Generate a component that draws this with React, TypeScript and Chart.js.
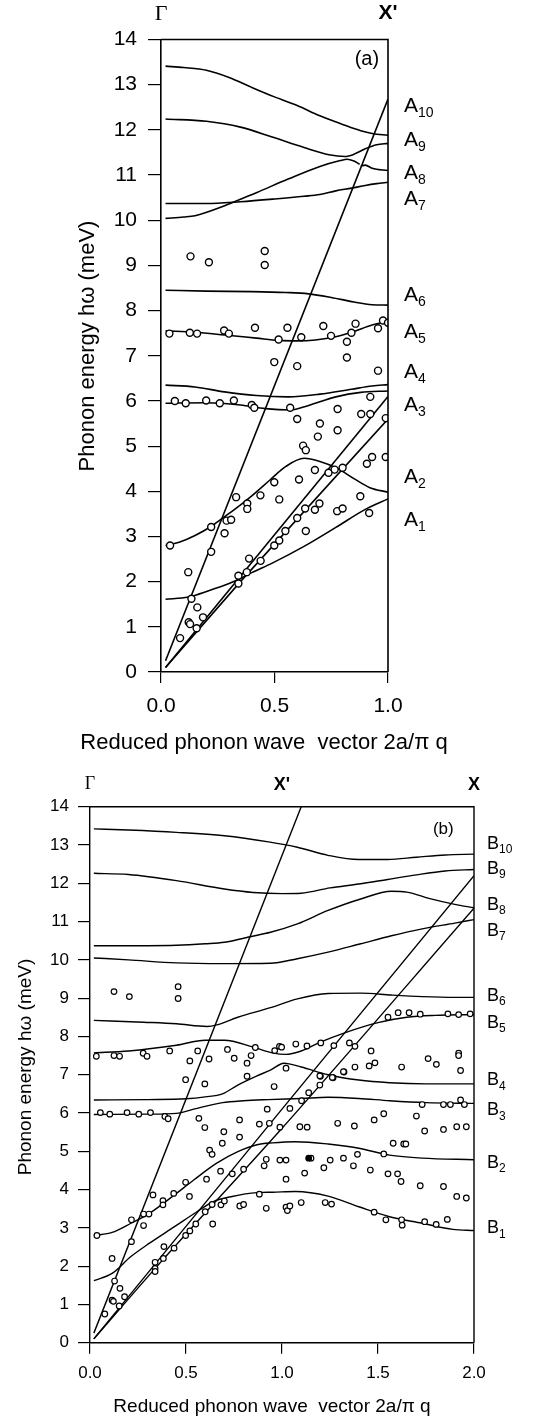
import React, { useEffect, useRef } from 'react';
import { Chart, registerables } from 'chart.js';

Chart.register(...registerables);

const SANS = "'Liberation Sans', Arial, sans-serif";
const SERIF = "'Liberation Serif', 'Times New Roman', serif";

// ---------------- Panel (a): Γ – X' ----------------
const A10_X = [0.02, 0.1, 0.2, 0.3, 0.4, 0.5, 0.6, 0.7, 0.8, 0.88, 0.93, 1.0];
const A10_Y = [13.41, 13.38, 13.32, 13.16, 12.94, 12.73, 12.54, 12.31, 12.12, 11.98, 11.92, 11.88];
const A9_X = [0.02, 0.2, 0.35, 0.49, 0.63, 0.74, 0.81, 0.85, 0.9, 0.95, 1.0];
const A9_Y = [12.24, 12.19, 12.06, 11.84, 11.61, 11.45, 11.41, 11.46, 11.58, 11.67, 11.7];
const A8A_X = [0.02, 0.1, 0.15, 0.28, 0.42, 0.56, 0.7, 0.79, 0.82, 0.85, 0.875];
const A8A_Y = [10.04, 10.07, 10.1, 10.32, 10.61, 10.91, 11.19, 11.32, 11.35, 11.31, 11.24];
const A8B_X = [0.88, 0.9, 0.93, 1.0];
const A8B_Y = [11.2, 11.22, 11.15, 11.1];
const A7_X = [0.02, 0.2, 0.35, 0.5, 0.63, 0.7, 0.77, 0.84, 0.9, 0.95, 1.0];
const A7_Y = [10.37, 10.37, 10.41, 10.47, 10.53, 10.57, 10.65, 10.71, 10.77, 10.81, 10.84];
const A6_X = [0.02, 0.2, 0.4, 0.55, 0.65, 0.75, 0.85, 0.93, 1.0];
const A6_Y = [8.45, 8.43, 8.42, 8.4, 8.37, 8.29, 8.19, 8.13, 8.12];
const A5_X = [0.02, 0.15, 0.28, 0.42, 0.52, 0.6, 0.68, 0.77, 0.84, 0.93, 1.0];
const A5_Y = [7.55, 7.52, 7.46, 7.39, 7.34, 7.33, 7.35, 7.42, 7.52, 7.68, 7.76];
const A4_X = [0.02, 0.15, 0.28, 0.42, 0.56, 0.7, 0.84, 0.93, 1.0];
const A4_Y = [6.35, 6.31, 6.2, 6.12, 6.09, 6.15, 6.26, 6.33, 6.36];
const A3_X = [0.02, 0.2, 0.35, 0.46, 0.57, 0.65, 0.77, 0.88, 1.0];
const A3_Y = [5.95, 5.96, 5.91, 5.83, 5.8, 5.9, 6.09, 6.19, 6.22];
const A2_X = [0.02, 0.08, 0.15, 0.22, 0.27, 0.33, 0.4, 0.48, 0.55, 0.63, 0.7, 0.78, 0.85, 0.92, 1.0];
const A2_Y = [2.8, 2.87, 3.02, 3.22, 3.4, 3.62, 3.9, 4.25, 4.55, 4.73, 4.66, 4.5, 4.28, 4.08, 3.98];
const A1_X = [0.02, 0.12, 0.21, 0.3, 0.35, 0.4, 0.49, 0.63, 0.77, 0.9, 1.0];
const A1_Y = [1.61, 1.66, 1.8, 1.96, 2.07, 2.2, 2.41, 2.78, 3.2, 3.6, 3.83];
const A_STEEP_X = [0.02, 1.0];
const A_STEEP_Y = [0.25, 12.68];
const A_D1_X = [0.02, 1.0];
const A_D1_Y = [0.1, 6.1];
const A_D2_X = [0.02, 0.35, 1.0];
const A_D2_Y = [0.1, 2.0, 5.6];

const PTS_A_X = [
  0.13, 0.211, 0.457, 0.457,
  0.037, 0.127, 0.159, 0.278, 0.299, 0.414, 0.557, 0.518, 0.618, 0.715, 0.749, 0.819, 0.839, 0.857, 0.956, 0.978, 1.0,
  0.819, 0.499, 0.6, 0.956,
  0.061, 0.109, 0.199, 0.259, 0.321, 0.4, 0.411, 0.569, 0.6, 0.778, 0.882, 0.922, 0.922, 0.99,
  0.7, 0.778, 0.691, 0.626, 0.638,
  0.99, 0.93, 0.907,
  0.04, 0.084, 0.12, 0.134, 0.16, 0.122, 0.128, 0.157, 0.185, 0.221, 0.221, 0.28, 0.289, 0.309, 0.331, 0.38, 0.38, 0.438, 0.499, 0.521, 0.608, 0.678, 0.738, 0.765, 0.8,
  0.341, 0.341, 0.378, 0.388, 0.439, 0.499, 0.521, 0.548, 0.6, 0.635, 0.638, 0.678, 0.698, 0.776, 0.8, 0.878, 0.917,
];
const PTS_A_Y = [
  9.2, 9.07, 9.32, 9.01,
  7.49, 7.51, 7.49, 7.56, 7.49, 7.62, 7.62, 7.36, 7.41, 7.66, 7.44, 7.31, 7.51, 7.71, 7.61, 7.78, 7.73,
  6.96, 6.86, 6.77, 6.67,
  6.0, 5.95, 6.01, 5.95, 6.01, 5.91, 5.85, 5.85, 5.6, 5.82, 5.71, 6.09, 5.71, 5.62,
  5.5, 5.35, 5.21, 5.01, 4.91,
  4.76, 4.76, 4.61,
  2.8, 0.75, 2.21, 1.62, 1.43, 1.1, 1.06, 0.97, 1.21, 3.21, 2.66, 3.07, 3.35, 3.37, 3.87, 3.73, 3.61, 3.91, 4.2, 3.82, 4.26, 4.47, 4.41, 4.48, 4.52,
  2.13, 1.96, 2.21, 2.51, 2.46, 2.8, 2.91, 3.12, 3.41, 3.62, 3.12, 3.59, 3.73, 3.56, 3.62, 3.89, 3.52,
];

const A_LABEL_SUBS = ['10', '9', '8', '7', '6', '5', '4', '3', '2', '1'];
const A_LABEL_VALUES = [12.52, 11.77, 11.04, 10.46, 8.34, 7.52, 6.64, 5.91, 4.31, 3.36];

// ---------------- Panel (b): Γ – X' – X ----------------
const B10_X = [0.02, 0.2, 0.45, 0.7, 0.93, 1.08, 1.24, 1.4, 1.55, 1.7, 1.85, 2.0];
const B10_Y = [13.42, 13.39, 13.33, 13.24, 13.08, 12.94, 12.73, 12.62, 12.62, 12.68, 12.74, 12.76];
const B9_X = [0.02, 0.2, 0.45, 0.7, 0.85, 1.0, 1.1, 1.25, 1.4, 1.55, 1.7, 1.85, 2.0];
const B9_Y = [12.26, 12.23, 12.07, 11.85, 11.76, 11.73, 11.74, 11.88, 11.98, 12.1, 12.22, 12.32, 12.36];
const B8_X = [0.02, 0.3, 0.45, 0.6, 0.7, 0.84, 0.94, 1.08, 1.24, 1.41, 1.57, 1.65, 1.77, 1.9, 2.0];
const B8_Y = [10.37, 10.37, 10.38, 10.42, 10.46, 10.61, 10.72, 10.94, 11.29, 11.59, 11.79, 11.77, 11.6, 11.45, 11.36];
const B7_X = [0.02, 0.2, 0.45, 0.69, 0.94, 1.08, 1.24, 1.41, 1.57, 1.73, 1.9, 2.0];
const B7_Y = [10.05, 10.0, 9.92, 9.9, 9.91, 10.03, 10.2, 10.42, 10.63, 10.81, 10.96, 11.05];
const B6_X = [0.02, 0.28, 0.45, 0.61, 0.66, 0.77, 0.94, 1.08, 1.24, 1.41, 1.57, 1.73, 1.9, 2.0];
const B6_Y = [8.42, 8.37, 8.33, 8.26, 8.3, 8.5, 8.75, 8.98, 9.12, 9.13, 9.08, 9.04, 9.02, 9.02];
const B5_X = [0.02, 0.2, 0.45, 0.6, 0.7, 0.85, 0.95, 1.02, 1.1, 1.2, 1.33, 1.5, 1.65, 1.8, 2.0];
const B5_Y = [7.57, 7.62, 7.77, 7.9, 7.9, 7.72, 7.57, 7.53, 7.62, 7.85, 8.1, 8.36, 8.5, 8.55, 8.57];
const B4_X = [0.02, 0.3, 0.5, 0.6, 0.69, 0.77, 0.87, 0.94, 1.01, 1.1, 1.24, 1.4, 1.56, 1.75, 2.0];
const B4_Y = [6.34, 6.35, 6.37, 6.42, 6.5, 6.73, 6.97, 7.12, 7.3, 7.2, 7.0, 6.86, 6.79, 6.76, 6.76];
const B3_X = [0.02, 0.3, 0.45, 0.54, 0.69, 0.8, 0.93, 1.1, 1.24, 1.4, 1.56, 1.75, 2.0];
const B3_Y = [5.96, 5.97, 5.99, 6.1, 6.27, 6.32, 6.35, 6.38, 6.41, 6.38, 6.32, 6.27, 6.25];
const B2_X = [0.02, 0.115, 0.213, 0.31, 0.44, 0.54, 0.66, 0.77, 0.87, 0.95, 1.07, 1.24, 1.4, 1.56, 1.73, 2.0];
const B2_Y = [2.8, 2.88, 3.12, 3.38, 3.86, 4.25, 4.69, 4.99, 5.17, 5.22, 5.25, 5.19, 5.08, 4.9, 4.82, 4.78];
const B1_X = [0.02, 0.115, 0.213, 0.31, 0.44, 0.557, 0.64, 0.74, 0.87, 0.95, 1.07, 1.24, 1.4, 1.56, 1.73, 1.89, 2.0];
const B1_Y = [1.62, 1.81, 2.25, 2.6, 3.03, 3.42, 3.68, 3.82, 3.92, 3.93, 3.95, 3.83, 3.55, 3.29, 3.12, 2.96, 2.93];
const B_STEEP_X = [0.02, 1.1];
const B_STEEP_Y = [0.25, 14.0];
const B_D1_X = [0.02, 1.0, 2.0];
const B_D1_Y = [0.1, 6.1, 12.2];
const B_D2_X = [0.02, 0.35, 1.0, 2.0];
const B_D2_Y = [0.1, 2.0, 5.6, 11.35];

const PTS_B_X = [
  0.125, 0.205, 0.459, 0.459,
  0.033, 0.125, 0.154, 0.277, 0.297, 0.415, 0.52, 0.561, 0.62, 0.716, 0.751, 0.818, 0.839, 0.861,
  0.498, 0.818,
  0.962, 0.987, 0.998, 1.072, 1.13, 1.202, 1.27, 1.351, 1.38, 1.464,
  1.552, 1.605, 1.662, 1.72, 1.864, 1.92, 1.98,
  1.021, 1.38, 1.454, 1.484, 1.623, 1.761, 1.804, 1.323, 1.2, 1.266, 1.92, 1.92, 1.93,
  0.598,
  0.054, 0.103, 0.193, 0.254, 0.315, 0.39, 0.407, 0.567, 0.598, 0.779, 0.882, 0.923, 0.934,
  0.697, 0.779, 0.689, 0.623, 0.636, 0.68, 0.741, 0.8, 0.607, 0.498, 0.518, 0.436, 0.38, 0.38, 0.328, 0.307, 0.279, 0.279, 0.216, 0.216, 0.036, 0.115, 0.128, 0.156, 0.115, 0.122, 0.152, 0.18, 0.077,
  0.339, 0.339, 0.339, 0.385, 0.382, 0.438, 0.498, 0.52, 0.551, 0.6, 0.639, 0.636, 0.682, 0.7, 0.78, 0.8, 0.882, 0.918, 0.918, 0.907,
  0.959, 1.041, 0.989, 1.093, 1.131, 1.139, 1.102, 1.197, 1.197, 1.262, 1.32, 1.29, 1.377, 1.48, 1.53, 1.579, 1.634, 1.645, 1.7, 1.743, 1.73, 1.841, 1.877, 1.841, 1.95, 1.93, 1.96, 1.91,
  0.989, 1.021, 1.021, 1.118, 1.151, 1.218, 1.251, 1.32, 1.372, 1.393, 1.46, 1.53, 1.552, 1.602, 1.62, 1.72, 1.841, 1.96, 1.91,
  1.021, 1.028, 1.041, 1.1, 1.225, 1.258, 1.48, 1.541, 1.623, 1.626, 1.743, 1.803, 1.861,
];
const PTS_B_Y = [
  9.17, 9.04, 9.3, 8.99,
  7.48, 7.5, 7.48, 7.56, 7.48, 7.62, 7.36, 7.62, 7.41, 7.66, 7.43, 7.3, 7.5, 7.71,
  6.87, 6.96,
  7.63, 7.74, 7.72, 7.8, 7.75, 7.83, 7.76, 7.83, 7.74, 7.62,
  8.5, 8.62, 8.62, 8.58, 8.59, 8.57, 8.59,
  7.17, 7.2, 7.23, 7.31, 7.2, 7.42, 7.27, 7.07, 6.96, 6.92, 7.56, 7.5, 7.11,
  6.76,
  6.01, 5.97, 6.01, 5.97, 6.01, 5.91, 5.85, 5.86, 5.62, 5.82, 5.71, 6.1, 5.73,
  5.51, 5.37, 5.21, 5.03, 4.92, 4.48, 4.41, 4.53, 4.27, 4.19, 3.82, 3.9, 3.71, 3.6, 3.86, 3.36, 3.36, 3.06, 3.21, 2.64, 2.8, 2.2, 1.61, 1.42, 1.11, 1.08, 0.96, 1.2, 0.75,
  1.94, 1.86, 2.1, 2.51, 2.2, 2.47, 2.8, 2.92, 3.1, 3.42, 3.1, 3.61, 3.6, 3.7, 3.57, 3.61, 3.88, 3.51, 4.79, 4.62,
  6.69, 6.12, 5.63, 5.64, 5.63, 6.53, 6.32, 6.73, 6.97, 6.93, 7.08, 5.73, 5.66, 5.82, 5.98, 5.21, 5.19, 5.19, 5.92, 5.53, 6.22, 6.22, 6.22, 5.57, 6.22, 6.34, 5.64, 5.64,
  4.77, 4.77, 4.27, 4.43, 4.82, 4.57, 4.77, 4.82, 4.62, 4.92, 4.51, 4.93, 4.41, 4.41, 4.21, 4.1, 4.08, 3.78, 3.82,
  3.54, 3.45, 3.57, 3.66, 3.66, 3.62, 3.41, 3.21, 3.21, 3.07, 3.16, 3.09, 3.22,
];
const FILLED_B_X = [1.139];
const FILLED_B_Y = [4.82];

const B_LABEL_SUBS = ['10', '9', '8', '7', '6', '5', '4', '3', '2', '1'];
const B_LABEL_VALUES = [13.03, 12.38, 11.44, 10.76, 9.06, 8.36, 6.85, 6.07, 4.69, 2.99];

const Y_TITLE = 'Phonon energy hω (meV)';
const X_TITLE = 'Reduced phonon wave  vector 2a/π q';

// ---------------- helpers ----------------
const xy = (xs: number[], ys: number[]) => xs.map((x, i) => ({ x, y: ys[i] }));

const panelDecor = {
  id: 'panelDecor',
  afterDraw(chart: any, _args: any, o: any) {
    const { ctx, chartArea: ca } = chart;
    const xs = chart.scales.x;
    const ys = chart.scales.y;
    ctx.save();
    // top and right frame
    ctx.strokeStyle = '#000';
    ctx.lineWidth = o.frameWidth;
    ctx.beginPath();
    ctx.moveTo(ca.left, ca.top);
    ctx.lineTo(ca.right, ca.top);
    ctx.lineTo(ca.right, ca.bottom);
    ctx.stroke();
    ctx.fillStyle = '#000';
    ctx.textBaseline = 'middle';
    ctx.textAlign = 'center';
    // symmetry point labels
    o.top.forEach((t: any) => {
      ctx.font = t.font;
      ctx.fillText(t.text, xs.getPixelForValue(t.q), ca.top + t.dy);
    });
    // branch labels
    ctx.textAlign = 'left';
    o.subs.forEach((sub: string, i: number) => {
      const x = ca.right + o.rightGap;
      const y = ys.getPixelForValue(o.values[i]);
      ctx.font = o.mainFont;
      ctx.fillText(o.letter, x, y);
      const w = ctx.measureText(o.letter).width;
      ctx.font = o.subFont;
      ctx.fillText(sub, x + w + o.subDx, y + o.subDy);
    });
    // panel tag
    ctx.textAlign = 'center';
    ctx.font = o.tagFont;
    ctx.fillText(o.tag.text, xs.getPixelForValue(o.tag.q), ys.getPixelForValue(o.tag.v));
    // axis titles
    ctx.font = o.xTitle.font;
    ctx.fillText(X_TITLE, o.xTitle.x, o.xTitle.y);
    ctx.save();
    ctx.translate(o.yTitle.x, o.yTitle.y);
    ctx.rotate(-Math.PI / 2);
    ctx.font = o.yTitle.font;
    ctx.fillText(Y_TITLE, 0, 0);
    ctx.restore();
    ctx.restore();
  },
};

function buildConfig(p: any) {
  const lineSets = p.curves.map((c: any) => ({
    data: xy(c[0], c[1]),
    showLine: true,
    pointRadius: 0,
    borderColor: '#000',
    borderWidth: p.lineWidth,
    cubicInterpolationMode: c[0].length > 3 ? 'monotone' : 'default',
    tension: 0,
    fill: false,
  }));
  const pointSets = [
    {
      data: xy(p.filled[0], p.filled[1]),
      showLine: false,
      pointRadius: p.pointR,
      pointBorderWidth: p.pointBW,
      pointBackgroundColor: '#000',
      pointBorderColor: '#000',
    },
    {
      data: xy(p.pts[0], p.pts[1]),
      showLine: false,
      pointRadius: p.pointR,
      pointBorderWidth: p.pointBW,
      pointBackgroundColor: '#fff',
      pointBorderColor: '#000',
    },
  ];
  return {
    type: 'scatter',
    data: { datasets: [...pointSets, ...lineSets] },
    plugins: [panelDecor],
    options: {
      animation: false,
      responsive: false,
      devicePixelRatio: 1,
      layout: { padding: { left: 0, right: p.padRight, top: p.padTop, bottom: 0 } },
      plugins: {
        legend: { display: false },
        tooltip: { enabled: false },
        panelDecor: p.decor,
      },
      scales: {
        x: {
          type: 'linear',
          min: 0,
          max: p.xMax,
          afterFit: (s: any) => { s.height = p.xAxisH; },
          ticks: {
            stepSize: 0.5,
            autoSkip: false,
            maxRotation: 0,
            padding: p.xTickPad,
            color: '#000',
            font: { family: SANS, size: p.tickFont },
            callback: (v: any) => Number(v).toFixed(1),
          },
          grid: { drawOnChartArea: false, drawTicks: true, tickLength: p.xTickLen, color: '#000', lineWidth: 1.2 },
          border: { display: true, color: '#000', width: p.frameWidth },
          title: { display: false },
        },
        y: {
          type: 'linear',
          min: 0,
          max: 14,
          afterFit: (s: any) => { s.width = p.yAxisW; },
          ticks: {
            stepSize: 1,
            autoSkip: false,
            padding: p.yTickPad,
            color: '#000',
            font: { family: SANS, size: p.tickFont },
          },
          grid: { drawOnChartArea: false, drawTicks: true, tickLength: p.yTickLen, color: '#000', lineWidth: 1.2 },
          border: { display: true, color: '#000', width: p.frameWidth },
          title: { display: false },
        },
      },
    },
  };
}

const PANEL_A = {
  curves: [
    [A10_X, A10_Y], [A9_X, A9_Y], [A8A_X, A8A_Y], [A8B_X, A8B_Y], [A7_X, A7_Y], [A6_X, A6_Y],
    [A5_X, A5_Y], [A4_X, A4_Y], [A3_X, A3_Y], [A2_X, A2_Y], [A1_X, A1_Y],
    [A_STEEP_X, A_STEEP_Y], [A_D1_X, A_D1_Y], [A_D2_X, A_D2_Y],
  ],
  pts: [PTS_A_X, PTS_A_Y],
  filled: [[], []],
  xMax: 1,
  lineWidth: 1.6,
  pointR: 3.5,
  pointBW: 1.4,
  padRight: 166,
  padTop: 39.5,
  yAxisW: 161,
  xAxisH: 88,
  tickFont: 21,
  xTickPad: 11,
  yTickPad: 11,
  xTickLen: 11,
  yTickLen: 13,
  frameWidth: 1.6,
  decor: {
    frameWidth: 1.6,
    top: [
      { text: 'Γ', q: 0, dy: -25, font: `22px ${SERIF}` },
      { text: "X'", q: 1, dy: -26, font: `bold 21px ${SANS}` },
    ],
    letter: 'A',
    subs: A_LABEL_SUBS,
    values: A_LABEL_VALUES,
    rightGap: 16,
    mainFont: `21px ${SANS}`,
    subFont: `14px ${SANS}`,
    subDx: 0,
    subDy: 7,
    tagFont: `20px ${SANS}`,
    tag: { text: '(a)', q: 0.907, v: 13.56 },
    xTitle: { x: 264, y: 743, font: `22px ${SANS}` },
    yTitle: { x: 88, y: 346, font: `22px ${SANS}` },
  },
};

const PANEL_B = {
  curves: [
    [B10_X, B10_Y], [B9_X, B9_Y], [B8_X, B8_Y], [B7_X, B7_Y], [B6_X, B6_Y], [B5_X, B5_Y],
    [B4_X, B4_Y], [B3_X, B3_Y], [B2_X, B2_Y], [B1_X, B1_Y],
    [B_STEEP_X, B_STEEP_Y], [B_D1_X, B_D1_Y], [B_D2_X, B_D2_Y],
  ],
  pts: [PTS_B_X, PTS_B_Y],
  filled: [FILLED_B_X, FILLED_B_Y],
  xMax: 2,
  lineWidth: 1.4,
  pointR: 2.8,
  pointBW: 1.2,
  padRight: 80,
  padTop: 46.7,
  yAxisW: 90,
  xAxisH: 75.3,
  tickFont: 17,
  xTickPad: 9,
  yTickPad: 9,
  xTickLen: 11,
  yTickLen: 12,
  frameWidth: 1.4,
  decor: {
    frameWidth: 1.4,
    top: [
      { text: 'Γ', q: 0, dy: -22, font: `18px ${SERIF}` },
      { text: "X'", q: 1, dy: -22, font: `bold 18px ${SANS}` },
      { text: 'X', q: 2, dy: -22, font: `bold 18px ${SANS}` },
    ],
    letter: 'B',
    subs: B_LABEL_SUBS,
    values: B_LABEL_VALUES,
    rightGap: 13,
    mainFont: `18px ${SANS}`,
    subFont: `12px ${SANS}`,
    subDx: 0,
    subDy: 6,
    tagFont: `17px ${SANS}`,
    tag: { text: '(b)', q: 1.84, v: 13.4 },
    xTitle: { x: 272, y: 646.5, font: `19px ${SANS}` },
    yTitle: { x: 26, y: 307, font: `19px ${SANS}` },
  },
};

export default function App() {
  const refA = useRef<HTMLCanvasElement | null>(null);
  const refB = useRef<HTMLCanvasElement | null>(null);

  useEffect(() => {
    const charts: Chart[] = [];
    if (refA.current) charts.push(new Chart(refA.current, buildConfig(PANEL_A) as any));
    if (refB.current) charts.push(new Chart(refB.current, buildConfig(PANEL_B) as any));
    return () => charts.forEach((c) => c.destroy());
  }, []);

  return (
    <div style={{ position: 'absolute', left: 0, top: 0, width: 554, height: 1418, background: '#fff' }}>
      <canvas
        ref={refA}
        width={554}
        height={760}
        style={{ position: 'absolute', left: 0, top: 0, width: 554, height: 760 }}
      />
      <canvas
        ref={refB}
        width={554}
        height={658}
        style={{ position: 'absolute', left: 0, top: 760, width: 554, height: 658 }}
      />
    </div>
  );
}
